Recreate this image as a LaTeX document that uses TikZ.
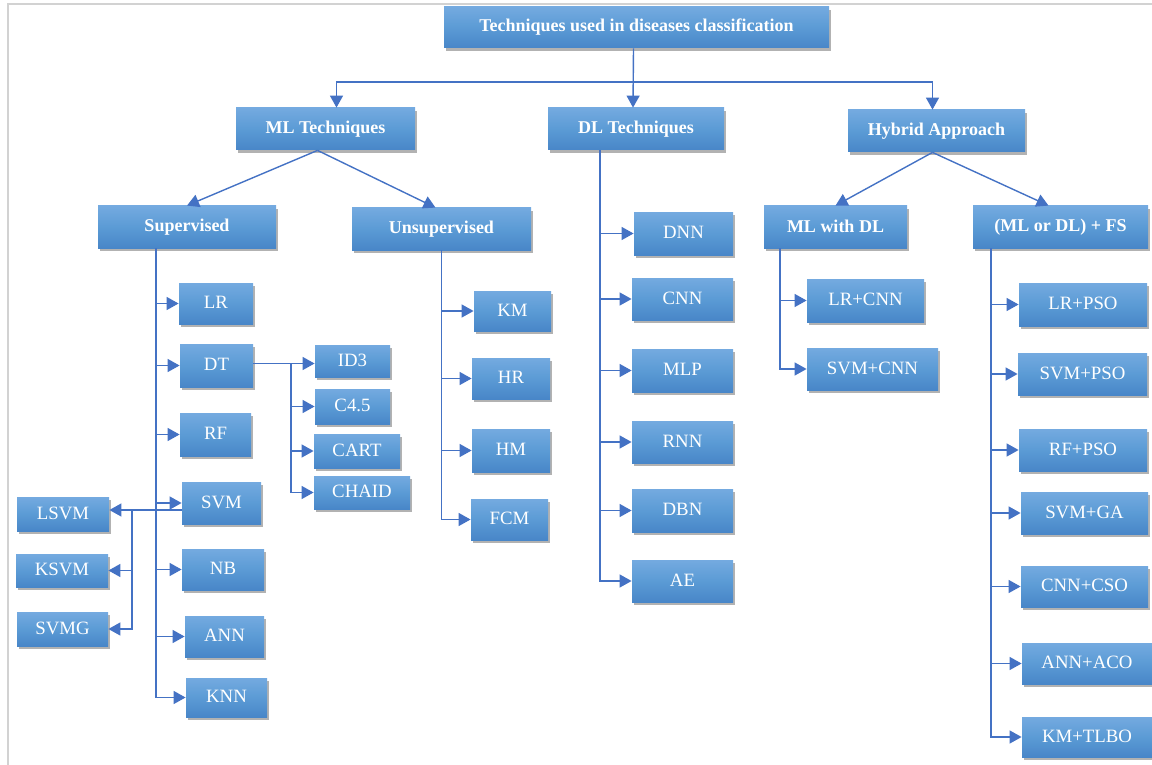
\documentclass[tikz,border=0pt]{standalone}
\usepackage{fontspec}
\setmainfont{Liberation Serif}
\usetikzlibrary{arrows.meta,shadows}
\definecolor{boxtop}{RGB}{116,170,224}
\definecolor{boxmid}{RGB}{91,155,213}
\definecolor{boxbot}{RGB}{72,134,200}
\definecolor{linec}{RGB}{68,114,196}
\definecolor{framec}{RGB}{210,210,210}
\tikzset{
  box/.style={draw=none,top color=boxtop,bottom color=boxbot,middle color=boxmid,
    text=white,inner sep=0pt,align=center,
    drop shadow={shadow xshift=1pt,shadow yshift=-1.5pt,fill=black,opacity=0.3}},
  headbox/.style={box,font=\bfseries\fontsize{9}{10}\selectfont},
  leafbox/.style={box,font=\fontsize{9.4}{10}\selectfont},
  conn/.style={draw=linec,line width=0.7pt},
  arr/.style={conn,-{Triangle[length=6pt,width=6.5pt]}},
}
\newcommand\mybox[7]{%
  \pgfmathsetmacro\bw{(#5-#3)/2}%
  \pgfmathsetmacro\bh{(#6-#4)/2}%
  \node[#1,minimum width=\bw pt,minimum height=\bh pt] (#2) at ({(#3+#5)/2},{(#4+#6)/2}) {\raisebox{1pt}{#7}};}
\begin{document}
\begin{tikzpicture}[x=0.5pt,y=-0.5pt]
\useasboundingbox (0,0) rectangle (1152,765);
\draw[framec,line width=0.8pt] (8,765) -- (8,4) -- (1152,4);
% heads
\mybox{headbox}{top}{444}{7}{829}{48}{Techniques used in diseases classification}
\mybox{headbox}{ml}{236}{108}{415}{150}{ML Techniques}
\mybox{headbox}{dl}{548}{108}{724}{150}{DL Techniques}
\mybox{headbox}{hyb}{848}{110}{1025}{152}{Hybrid Approach}
\mybox{headbox}{sup}{98}{206}{276}{248}{Supervised}
\mybox{headbox}{uns}{352}{208}{531}{250}{Unsupervised}
\mybox{headbox}{mldl}{764}{206}{907}{248}{ML with DL}
\mybox{headbox}{fs}{973}{206}{1148}{248}{(ML or DL) + FS}
% supervised leaves
\mybox{leafbox}{lr}{179}{283}{253}{324}{LR}
\mybox{leafbox}{dt}{180}{344}{253}{387}{DT}
\mybox{leafbox}{rf}{180}{413}{251}{456}{RF}
\mybox{leafbox}{svm}{182}{482}{261}{524}{SVM}
\mybox{leafbox}{nb}{182}{549}{264}{590}{NB}
\mybox{leafbox}{ann}{185}{616}{264}{657}{ANN}
\mybox{leafbox}{knn}{186}{678}{267}{717}{KNN}
\mybox{leafbox}{id3}{315}{345}{390}{377}{ID3}
\mybox{leafbox}{c45}{315}{389}{390}{424}{C4.5}
\mybox{leafbox}{cart}{314}{434}{400}{468}{CART}
\mybox{leafbox}{chaid}{314}{476}{410}{509}{CHAID}
\mybox{leafbox}{lsvm}{17}{497}{109}{531}{LSVM}
\mybox{leafbox}{ksvm}{16}{554}{108}{587}{KSVM}
\mybox{leafbox}{svmg}{17}{612}{108}{646}{SVMG}
% unsupervised leaves
\mybox{leafbox}{km}{474}{291}{551}{331}{KM}
\mybox{leafbox}{hr}{472}{358}{550}{399}{HR}
\mybox{leafbox}{hm}{472}{429}{550}{472}{HM}
\mybox{leafbox}{fcm}{471}{499}{548}{540}{FCM}
% DL leaves
\mybox{leafbox}{dnn}{634}{212}{733}{255}{DNN}
\mybox{leafbox}{cnn}{632}{278}{733}{320}{CNN}
\mybox{leafbox}{mlp}{632}{349}{733}{392}{MLP}
\mybox{leafbox}{rnn}{632}{421}{733}{463}{RNN}
\mybox{leafbox}{dbn}{632}{489}{733}{532}{DBN}
\mybox{leafbox}{ae}{632}{560}{733}{602}{AE}
% hybrid leaves
\mybox{leafbox}{lrcnn}{807}{279}{924}{322}{LR+CNN}
\mybox{leafbox}{svmcnn}{807}{348}{938}{390}{SVM+CNN}
\mybox{leafbox}{lrpso}{1019}{283}{1147}{326}{LR+PSO}
\mybox{leafbox}{svmpso}{1018}{353}{1147}{395}{SVM+PSO}
\mybox{leafbox}{rfpso}{1019}{429}{1147}{471}{RF+PSO}
\mybox{leafbox}{svmga}{1021}{492}{1148}{534}{SVM+GA}
\mybox{leafbox}{cnncso}{1021}{566}{1148}{607}{CNN+CSO}
\mybox{leafbox}{annaco}{1022}{643}{1152}{684}{ANN+ACO}
\mybox{leafbox}{kmtlbo}{1022}{717}{1152}{757}{KM+TLBO}
% spine coordinates
\coordinate (hy) at (0,82);
\coordinate (sx) at (156,0);
\coordinate (dx) at (291,0);
\coordinate (kx) at (132,0);
\coordinate (dlx) at (600,0);
\coordinate (mdx) at (780,0);
\coordinate (fsx) at (991,0);
% top level
\draw[arr] ([xshift=-1.5pt]top.south) -- ([xshift=-1.5pt]dl.north);
\draw[arr] ([xshift=-1.5pt]top.south |- hy) -| ([xshift=5.5pt]ml.north);
\draw[arr] ([xshift=-1.5pt]top.south |- hy) -| ([xshift=-2pt]hyb.north);
\draw[arr] ([xshift=-4pt]ml.south) -- (sup.north);
\draw[arr] ([xshift=-4pt]ml.south) -- ([xshift=-3pt]uns.north);
\draw[arr] ([xshift=-2pt]hyb.south) -- (mldl.north);
\draw[arr] ([xshift=-2pt]hyb.south) -- ([xshift=-6pt]fs.north);
% supervised
\foreach \n in {lr,dt,rf,svm,nb,ann,knn}
  \draw[arr] (sup.south -| sx) |- (\n.west);
\draw[arr] ([yshift=1pt]dt.east) -- ([yshift=1pt]dt.east -| id3.west);
\foreach \n in {c45,cart,chaid}
  \draw[arr] ([yshift=1pt]dt.east -| dx) |- (\n.west);
\draw[arr] ([yshift=-3.5pt]svm.west) -- ([yshift=-3.5pt]svm.west -| lsvm.east);
\foreach \n in {ksvm,svmg}
  \draw[arr] ([yshift=-3.5pt]svm.west -| kx) |- (\n.east);
% unsupervised
\foreach \n in {km,hr,hm,fcm}
  \draw[arr] (uns.south) |- (\n.west);
% DL
\foreach \n in {dnn,cnn,mlp,rnn,dbn,ae}
  \draw[arr] (dl.south -| dlx) |- (\n.west);
% hybrid
\foreach \n in {lrcnn,svmcnn}
  \draw[arr] (mldl.south -| mdx) |- (\n.west);
\foreach \n in {lrpso,svmpso,rfpso,svmga,cnncso,annaco,kmtlbo}
  \draw[arr] (fs.south -| fsx) |- (\n.west);
\end{tikzpicture}
\end{document}
